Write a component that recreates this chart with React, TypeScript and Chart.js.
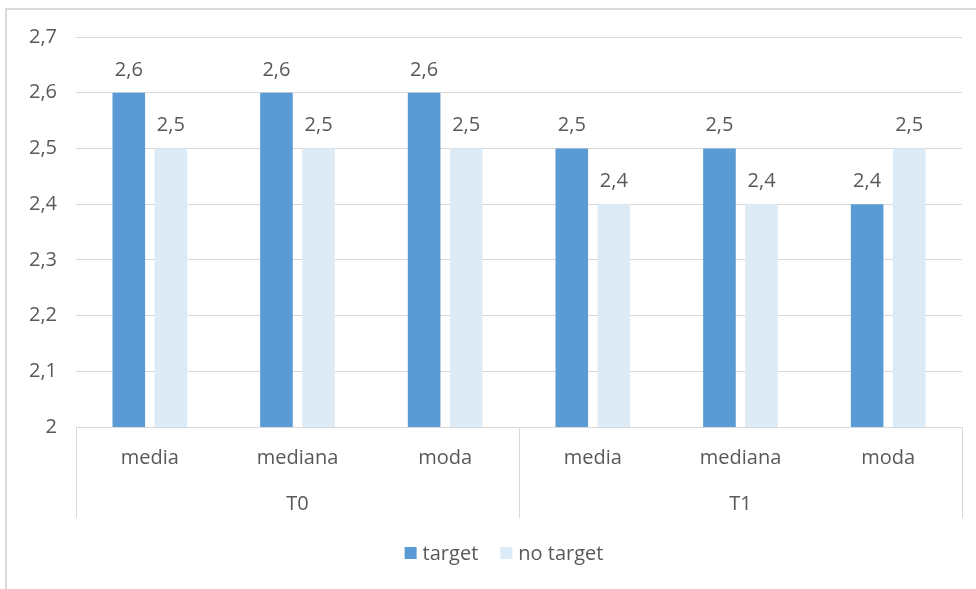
import React, { useEffect, useRef } from "react";
import { Chart, registerables } from "chart.js";

Chart.register(...registerables);

const categories = ["media", "mediana", "moda", "media", "mediana", "moda"];
const groupLabels = ["T0", "T1"];
const groupSizes = [3, 3];
const targetValues = [2.6, 2.6, 2.6, 2.5, 2.5, 2.4];
const noTargetValues = [2.5, 2.5, 2.5, 2.4, 2.4, 2.5];
const seriesNames = ["target", "no target"];
const seriesColors = ["#5B9BD5", "#DDEBF7"];
const yMin = 2;
const yMax = 2.7;
const yStep = 0.1;

const FONT = "'Open Sans', sans-serif";
const TEXT = "#595959";
const LINE = "#d9d9d9";
const FS = 20;

const fmt = (v: number) => {
  const r = Math.round(v * 10) / 10;
  return Number.isInteger(r) ? String(r) : r.toFixed(1).replace(".", ",");
};

const overlay = {
  id: "overlay",
  afterDraw(chart: any) {
    const ctx = chart.ctx as CanvasRenderingContext2D;
    const area = chart.chartArea;
    const x = chart.scales.x;
    ctx.save();
    // outer frame
    ctx.strokeStyle = LINE;
    ctx.lineWidth = 2;
    ctx.beginPath();
    ctx.moveTo(6, chart.height);
    ctx.lineTo(6, 9);
    ctx.lineTo(chart.width, 9);
    ctx.stroke();

    // category separators
    ctx.lineWidth = 1;
    const sepBottom = area.bottom + 91;
    const seps: number[] = [area.left, area.right];
    let idx = 0;
    for (let g = 0; g < groupSizes.length - 1; g++) {
      idx += groupSizes[g];
      seps.push((x.getPixelForValue(idx - 1) + x.getPixelForValue(idx)) / 2);
    }
    ctx.beginPath();
    seps.forEach((sx) => {
      const px = Math.round(sx) + 0.5;
      ctx.moveTo(px, area.bottom);
      ctx.lineTo(px, sepBottom);
    });
    ctx.stroke();

    ctx.fillStyle = TEXT;
    ctx.font = `${FS}px ${FONT}`;
    ctx.textAlign = "center";
    ctx.textBaseline = "middle";
    categories.forEach((c, i) => {
      ctx.fillText(c, x.getPixelForValue(i), area.bottom + 31);
    });
    let start = 0;
    groupLabels.forEach((g, gi) => {
      const end = start + groupSizes[gi] - 1;
      const cx = (x.getPixelForValue(start) + x.getPixelForValue(end)) / 2;
      ctx.fillText(g, cx, area.bottom + 77);
      start = end + 1;
    });

    // data labels
    ctx.textBaseline = "alphabetic";
    chart.data.datasets.forEach((ds: any, di: number) => {
      const meta = chart.getDatasetMeta(di);
      meta.data.forEach((bar: any, i: number) => {
        ctx.fillText(fmt(ds.data[i]), bar.x, bar.y - 17);
      });
    });

    // legend
    const legendY = 553;
    ctx.font = `${FS}px ${FONT}`;
    ctx.textAlign = "left";
    ctx.textBaseline = "middle";
    const box = 12;
    const gap = 6;
    const itemGap = 22;
    const widths = seriesNames.map((n) => box + gap + ctx.measureText(n).width);
    const total = widths.reduce((a, b) => a + b, 0) + itemGap * (widths.length - 1);
    let lx = (area.left + area.right) / 2 - total / 2 - 15;
    seriesNames.forEach((n, i) => {
      ctx.fillStyle = seriesColors[i];
      ctx.fillRect(lx, legendY - box / 2, box, box);
      ctx.fillStyle = TEXT;
      ctx.fillText(n, lx + box + gap, legendY + 1);
      lx += widths[i] + itemGap;
    });
    ctx.restore();
  },
};

export default function App() {
  const ref = useRef<HTMLCanvasElement>(null);
  useEffect(() => {
    if (!ref.current) return;
    const chart = new Chart(ref.current, {
      type: "bar",
      data: {
        labels: categories,
        datasets: [
          { label: seriesNames[0], data: targetValues, backgroundColor: seriesColors[0] },
          { label: seriesNames[1], data: noTargetValues, backgroundColor: seriesColors[1] },
        ],
      },
      options: {
        animation: false,
        responsive: true,
        maintainAspectRatio: false,
        layout: { padding: { left: 0, top: 37, right: 14, bottom: 0 } },
        datasets: { bar: { categoryPercentage: 0.57, barPercentage: 0.775 } },
        plugins: { legend: { display: false }, tooltip: { enabled: false } },
        scales: {
          x: {
            grid: { display: false },
            border: { display: true, color: LINE, width: 1 },
            ticks: { display: false },
            afterFit: (s: any) => {
              s.height = 162;
            },
          },
          y: {
            min: yMin,
            max: yMax,
            grid: { color: LINE, drawTicks: false, tickLength: 0 },
            border: { display: false },
            ticks: {
              stepSize: yStep,
              padding: 19,
              color: TEXT,
              font: { family: FONT, size: FS },
              callback: (v: any) => fmt(Number(v)),
            },
            afterFit: (s: any) => {
              s.width = 76;
            },
          },
        },
      },
      plugins: [overlay],
    });
    return () => chart.destroy();
  }, []);
  return (
    <div style={{ position: "fixed", left: 0, top: 0, width: 976, height: 589, background: "#fff" }}>
      <canvas ref={ref} />
    </div>
  );
}
